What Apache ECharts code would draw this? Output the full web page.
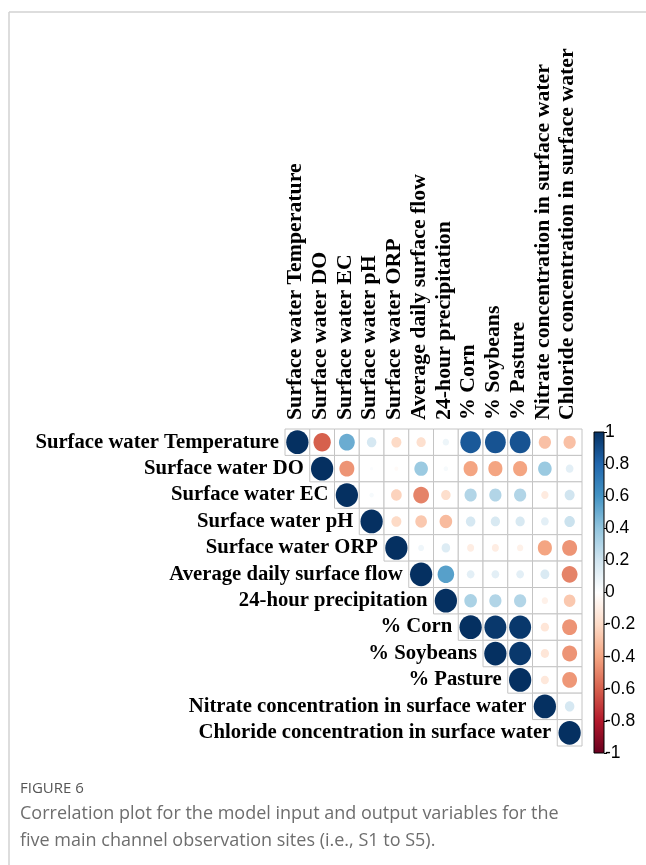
<!DOCTYPE html>
<html>
<head>
<meta charset="utf-8">
<script src="https://cdn.jsdelivr.net/npm/echarts@6/dist/echarts.min.js"></script>
<style>
  html, body { margin: 0; padding: 0; background: #fff; }
  #chart { width: 646px; height: 865px; }
</style>
</head>
<body>
<div id="chart"></div>
<script>
// Variables shown on both axes of the correlation matrix
const variables = [
  'Surface water Temperature',
  'Surface water DO',
  'Surface water EC',
  'Surface water pH',
  'Surface water ORP',
  'Average daily surface flow',
  '24-hour precipitation',
  '% Corn',
  '% Soybeans',
  '% Pasture',
  'Nitrate concentration in surface water',
  'Chloride concentration in surface water'
];

// Upper-triangle correlation coefficients, each row starting at the diagonal
const rTemperature = [1, -0.6, 0.5, 0.18, -0.2, -0.17, 0.08, 0.85, 0.87, 0.87, -0.3, -0.3];
const rDO          = [1, -0.45, 0.02, -0.03, 0.37, 0.04, -0.4, -0.4, -0.4, 0.37, 0.12];
const rEC          = [1, 0.04, -0.23, -0.5, -0.18, 0.3, 0.3, 0.3, -0.11, 0.2];
const rPH          = [1, -0.2, -0.27, -0.32, 0.18, 0.17, 0.17, 0.12, 0.22];
const rORP         = [1, 0.07, 0.15, -0.1, -0.1, -0.08, -0.4, -0.45];
const rFlow        = [1, 0.55, 0.12, 0.12, 0.12, 0.16, -0.5];
const rPrecip      = [1, 0.32, 0.3, 0.3, -0.08, -0.27];
const rCorn        = [1, 0.97, 0.97, -0.14, -0.45];
const rSoybeans    = [1, 0.97, -0.14, -0.45];
const rPasture     = [1, -0.13, -0.44];
const rNitrate     = [1, 0.18];
const rChloride    = [1];

const corrRows = [rTemperature, rDO, rEC, rPH, rORP, rFlow, rPrecip,
                  rCorn, rSoybeans, rPasture, rNitrate, rChloride];

// Diverging red-blue palette, from -1 to 1 in steps of 0.2
const rdbu = ['#67001F', '#B2182B', '#D6604D', '#F4A582', '#FDDBC7', '#FFFFFF',
              '#D1E5F0', '#92C5DE', '#4393C3', '#2166AC', '#053061'];

// Colour-bar scale
const barMin = -1, barMax = 1, barStep = 0.2;

function hexToRgb(h) {
  const n = parseInt(h.slice(1), 16);
  return [(n >> 16) & 255, (n >> 8) & 255, n & 255];
}
function corrColor(r) {
  const t = (Math.max(-1, Math.min(1, r)) + 1) / 2 * (rdbu.length - 1);
  const i = Math.min(rdbu.length - 2, Math.floor(t));
  const f = t - i;
  const a = hexToRgb(rdbu[i]), b = hexToRgb(rdbu[i + 1]);
  const c = a.map((v, k) => Math.round(v + (b[k] - v) * f));
  return 'rgb(' + c.join(',') + ')';
}

// Cells of the upper triangle: [column, row, r]
const cells = [];
corrRows.forEach((row, i) => {
  row.forEach((r, k) => cells.push([i + k, i, r]));
});
const diagonal = variables.map((_, i) => [i, i]);
const topRow = variables.map((_, i) => [i, 0]);

const serif = '"Liberation Serif", "Times New Roman", serif';
const sans = '"Liberation Sans", Arial, sans-serif';
const captionFont = '"Open Sans", sans-serif';

const chart = echarts.init(document.getElementById('chart'), null, { renderer: 'canvas' });

chart.setOption({
  backgroundColor: '#ffffff',
  animation: false,
  title: [
    {
      text: 'FIGURE 6',
      left: 20, top: 781, padding: 0,
      textStyle: { fontFamily: captionFont, fontSize: 15, fontWeight: 'normal', color: '#555555' }
    },
    {
      text: 'Correlation plot for the model input and output variables for the\nfive main channel observation sites (i.e., S1 to S5).',
      left: 20, top: 800, padding: 0,
      textStyle: { fontFamily: captionFont, fontSize: 18, fontWeight: 'normal', color: '#6e6e6e', lineHeight: 27 }
    }
  ],
  graphic: [
    { type: 'line', shape: { x1: 9, y1: 12, x2: 646, y2: 12 }, style: { stroke: '#d2d2d2', lineWidth: 1.5 } },
    { type: 'line', shape: { x1: 9, y1: 12, x2: 9, y2: 865 }, style: { stroke: '#d2d2d2', lineWidth: 1.5 } }
  ],
  grid: [
    { left: 285, top: 429, width: 297, height: 317 },
    { left: 594, top: 432, width: 10, height: 321 }
  ],
  xAxis: [
    {
      gridIndex: 0, type: 'category', position: 'top', data: variables,
      axisLine: { show: false }, axisTick: { show: false }, splitLine: { show: false },
      axisLabel: { show: false }
    },
    {
      gridIndex: 1, type: 'category', data: [''],
      show: false
    }
  ],
  yAxis: [
    {
      gridIndex: 0, type: 'category', inverse: true, data: variables,
      axisLine: { show: false }, axisTick: { show: false }, axisLabel: { show: false }, splitLine: { show: false }
    },
    {
      gridIndex: 1, type: 'value', position: 'right',
      min: barMin, max: barMax, interval: barStep,
      axisLine: { show: false }, splitLine: { show: false },
      axisTick: { show: true, length: 3, lineStyle: { color: '#000', width: 1 } },
      axisLabel: {
        margin: 1, fontFamily: sans, fontSize: 17.5, color: '#000',
        formatter: v => String(Math.round(v * 10) / 10)
      }
    }
  ],
  series: [
    {
      // grey frame around every upper-triangle cell
      type: 'custom', xAxisIndex: 0, yAxisIndex: 0,
      data: cells, encode: { x: 0, y: 1 },
      renderItem: (params, api) => {
        const c = api.coord([api.value(0), api.value(1)]);
        const s = api.size([1, 1]);
        return {
          type: 'rect',
          shape: { x: c[0] - s[0] / 2, y: c[1] - s[1] / 2, width: s[0], height: s[1] },
          style: { fill: '#fff', stroke: '#c4c4c4', lineWidth: 1 }
        };
      },
      z: 1
    },
    {
      // circles: area follows |r|, colour follows r
      type: 'custom', xAxisIndex: 0, yAxisIndex: 0,
      data: cells, encode: { x: 0, y: 1 },
      renderItem: (params, api) => {
        const r = api.value(2);
        const c = api.coord([api.value(0), api.value(1)]);
        const s = api.size([1, 1]);
        const k = Math.sqrt(Math.abs(r)) * 0.45;
        return {
          type: 'ellipse',
          shape: { cx: c[0], cy: c[1], rx: s[0] * k, ry: s[1] * k },
          style: { fill: corrColor(r) }
        };
      },
      z: 2
    },
    {
      // row names set beside the diagonal
      type: 'custom', xAxisIndex: 0, yAxisIndex: 0,
      data: diagonal, encode: { x: 0, y: 1 },
      renderItem: (params, api) => {
        const c = api.coord([api.value(0), api.value(1)]);
        const s = api.size([1, 1]);
        return {
          type: 'text',
          style: {
            x: c[0] - s[0] / 2 - 6, y: c[1],
            text: variables[params.dataIndex],
            textAlign: 'right', textVerticalAlign: 'middle',
            font: 'bold 20.7px ' + serif, fill: '#000'
          }
        };
      },
      z: 3
    },
    {
      // column names above the top edge, reading upwards
      type: 'custom', xAxisIndex: 0, yAxisIndex: 0,
      data: topRow, encode: { x: 0, y: 1 },
      renderItem: (params, api) => {
        const c = api.coord([api.value(0), api.value(1)]);
        const s = api.size([1, 1]);
        return {
          type: 'text',
          x: c[0] - 2, y: c[1] - s[1] / 2 - 9,
          rotation: Math.PI / 2,
          style: {
            x: 0, y: 0,
            text: variables[params.dataIndex],
            textAlign: 'left', textVerticalAlign: 'middle',
            font: 'bold 21.8px ' + serif, fill: '#000'
          }
        };
      },
      z: 3
    },
    {
      // colour bar
      type: 'custom', xAxisIndex: 1, yAxisIndex: 1,
      data: [[0, barMin, barMax]], encode: { x: 0, y: [1, 2] },
      renderItem: (params, api) => {
        const top = api.coord([0, api.value(2)]);
        const bottom = api.coord([0, api.value(1)]);
        const w = api.size([1, 0])[0];
        const stops = rdbu.slice().reverse().map((col, i) => ({ offset: i / (rdbu.length - 1), color: col }));
        return {
          type: 'rect',
          shape: { x: top[0] - w / 2, y: top[1], width: w, height: bottom[1] - top[1] },
          style: {
            fill: new echarts.graphic.LinearGradient(0, 0, 0, 1, stops),
            stroke: '#000', lineWidth: 1
          }
        };
      }
    }
  ]
});
</script>
</body>
</html>
